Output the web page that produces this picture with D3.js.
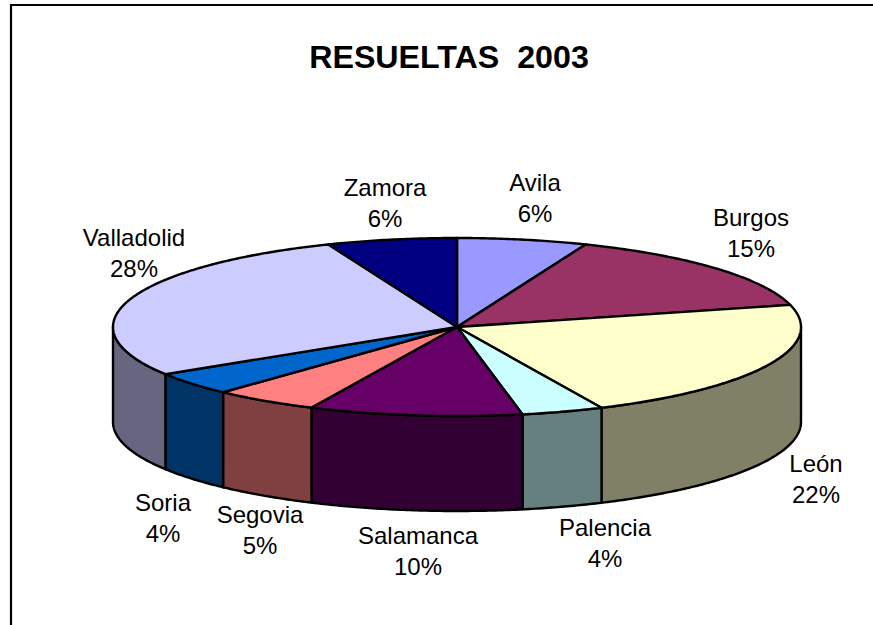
<!DOCTYPE html>
<html><head><meta charset="utf-8">
<script src="https://d3js.org/d3.v7.min.js"></script>
<style>html,body{margin:0;padding:0;background:#fff}svg{display:block}text{font-family:"Liberation Sans",Arial,sans-serif;fill:#000}</style>
</head><body><div id="c"></div>
<script>
const categories=["Avila","Burgos","León","Palencia","Salamanca","Segovia","Soria","Valladolid","Zamora"];
const values=[6.1,14.9,22.1,3.85,10,4.95,4.2,27.8,6.1];
const topColors=["#9999FF","#993366","#FFFFCC","#CCFFFF","#660066","#FF8080","#0066CC","#CCCCFF","#000080"];
const sideColors=["#4D4D80","#4D1A33","#808066","#668080","#330033","#804040","#003366","#666680","#000040"];
const labelPositions=[[535,191],[751,226],[816,472],[605,536],[418,544],[260,523],[163,511],[134,246],[385,196]];
const title="RESUELTAS  2003";

const W=873,H=625,cx=457,cy=327,rx=344,ry=89,depth=95;
const svg=d3.select("#c").append("svg").attr("width",W).attr("height",H);

// frame: open on the right and at the bottom, as cropped in the reference
svg.append("path").attr("d",d3.line()([[11,H],[11,5],[W,5]])).attr("fill","none").attr("stroke","#000").attr("stroke-width",2.2);

svg.append("text").attr("x",449).attr("y",68).attr("text-anchor","middle").attr("font-size",32.2).attr("font-weight","bold").style("white-space","pre").text(title);

const pie=d3.pie().sort(null).startAngle(0).endAngle(2*Math.PI)(values);
const px=d3.scaleLinear().domain([-1,1]).range([cx-rx,cx+rx]);
const py=d3.scaleLinear().domain([-1,1]).range([cy+ry,cy-ry]);
const pt=(a,dz=0)=>[px(Math.sin(a)),py(Math.cos(a))+dz];
const samples=(a0,a1)=>{const n=Math.max(2,Math.ceil((a1-a0)/0.01));return d3.range(n+1).map(i=>a0+(a1-a0)*i/n)};
const line=d3.line();

// side walls: only the visible front half of the disc
const sides=pie.map((d,i)=>({i,a0:Math.max(d.startAngle,Math.PI/2),a1:Math.min(d.endAngle,3*Math.PI/2)})).filter(d=>d.a1>d.a0);
svg.append("g").selectAll("path").data(sides).join("path")
 .attr("d",d=>{const s=samples(d.a0,d.a1);return line([...s.map(a=>pt(a)),...s.slice().reverse().map(a=>pt(a,depth))])+"Z"})
 .attr("fill",d=>sideColors[d.i]).attr("stroke","#000").attr("stroke-width",2.4).attr("stroke-linejoin","round");

// top face
svg.append("g").selectAll("path").data(pie).join("path")
 .attr("d",(d)=>line([[cx,cy],...samples(d.startAngle,d.endAngle).map(a=>pt(a))])+"Z")
 .attr("fill",(d,i)=>topColors[i]).attr("stroke","#000").attr("stroke-width",2.4).attr("stroke-linejoin","round");

// labels
const lab=svg.append("g").selectAll("g").data(categories).join("g")
 .attr("transform",(d,i)=>`translate(${labelPositions[i][0]},${labelPositions[i][1]})`);
lab.append("text").attr("text-anchor","middle").attr("font-size",24).text(d=>d);
lab.append("text").attr("text-anchor","middle").attr("font-size",24).attr("y",30.5).text((d,i)=>Math.round(values[i])+"%");
</script></body></html>
